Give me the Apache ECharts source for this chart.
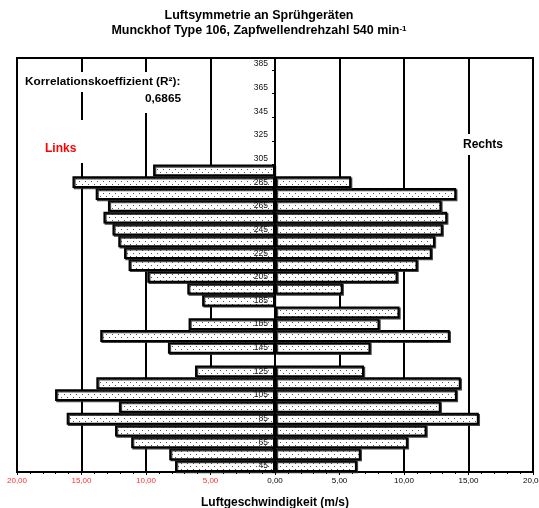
<!DOCTYPE html>
<html>
<head>
<meta charset="utf-8">
<script src="https://cdn.jsdelivr.net/npm/echarts@6/dist/echarts.min.js"></script>
<style>html,body{margin:0;padding:0;background:#fff}#c{width:539px;height:508px}</style>
</head>
<body>
<div id="c"></div>
<script>
// Categories (distance / height labels, bottom to top)
var categories = ['45','55','65','75','85','95','105','115','125','135','145','155','165','175','185','195','205','215','225','235','245','255','265','275','285','295','305','315','325','335','345','355','365','375','385'];
// Left side (Links) air speed, m/s
var leftValues = [7.75, 8.2, 11.15, 12.4, 16.15, 12.1, 17.05, 13.85, 6.2, null, 8.3, 13.55, 6.7, null, 5.65, 6.8, 9.9, 11.35, 11.7, 12.15, 12.6, 13.3, 12.95, 13.9, 15.7, 9.45, null, null, null, null, null, null, null, null, null];
// Right side (Rechts) air speed, m/s
var rightValues = [6.35, 6.65, 10.3, 11.75, 15.8, 12.85, 14.1, 14.4, 6.9, null, 7.4, 13.55, 8.1, 9.65, null, 5.25, 9.5, 11.05, 12.15, 12.4, 13.0, 13.35, 12.9, 14.05, 5.9, null, null, null, null, null, null, null, null, null, null];
var xTicks = [-20, -15, -10, -5, 0, 5, 10, 15, 20];

var FONT = "'Liberation Sans', Arial, sans-serif";
var GRID_LEFT = 17, GRID_RIGHT = 6, W = 539;

// dotted fill pattern
var pc = document.createElement('canvas');
pc.width = 6; pc.height = 6;
var pctx = pc.getContext('2d');
pctx.fillStyle = '#ffffff'; pctx.fillRect(0, 0, 6, 6);
pctx.fillStyle = '#555555';
pctx.fillRect(1, 1, 1, 1);
pctx.fillRect(4, 4, 1, 1);
var patternFill = { image: pc, repeat: 'repeat' };

var barStyle = {
  color: patternFill,
  borderColor: '#000',
  borderWidth: 2,
  shadowColor: 'rgba(40,40,40,0.85)',
  shadowOffsetX: 1.2,
  shadowOffsetY: 1.2,
  shadowBlur: 0
};

// offset that moves the category axis onto x = 0
var plotW = W - GRID_LEFT - GRID_RIGHT;
var zeroOffset = -plotW * (0 - xTicks[0]) / (xTicks[xTicks.length - 1] - xTicks[0]);

var chart = echarts.init(document.getElementById('c'), null, { renderer: 'canvas' });
chart.setOption({
  animation: false,
  backgroundColor: '#fff',
  textStyle: { fontFamily: FONT },
  grid: { left: GRID_LEFT, right: GRID_RIGHT, top: 58, bottom: 36, outerBoundsMode: 'none', containLabel: false,
          show: true, borderColor: '#000', borderWidth: 2, backgroundColor: '#fff' },
  xAxis: {
    type: 'value', min: xTicks[0], max: xTicks[xTicks.length - 1], interval: 5,
    name: 'Luftgeschwindigkeit (m/s)', nameLocation: 'middle', nameGap: 25,
    nameTextStyle: { fontFamily: FONT, fontSize: 12, fontWeight: 'bold', color: '#000' },
    axisLine: { show: true, lineStyle: { color: '#000', width: 2 } },
    axisTick: { show: true, length: 3, lineStyle: { color: '#000', width: 1 } },
    minorTick: { show: true, splitNumber: 5, length: 2, lineStyle: { color: '#000', width: 1 } },
    splitLine: { show: true, lineStyle: { color: '#000', width: 2 } },
    axisLabel: {
      margin: 5, fontFamily: FONT, fontSize: 8,
      formatter: function (v) { return Math.abs(v).toFixed(2).replace('.', ','); },
      color: function (v) { return Number(v) < 0 ? '#ff3030' : '#000'; }
    }
  },
  yAxis: {
    type: 'category', data: categories, z: 10, offset: zeroOffset,
    axisLine: { show: true, onZero: false, lineStyle: { color: '#000', width: 2 } },
    axisTick: { show: true, length: 3, lineStyle: { color: '#000', width: 1 } },
    axisLabel: { interval: 1, margin: 7, fontFamily: FONT, fontSize: 8.5, color: '#111' },
    splitLine: { show: false }
  },
  series: [
    {
      name: 'Links', type: 'bar', stack: 'lr', barCategoryGap: '0%', barWidth: '100%', z: 2,
      itemStyle: barStyle,
      data: leftValues.map(function (v) { return v == null ? '-' : -v; })
    },
    {
      name: 'Rechts', type: 'bar', stack: 'lr', barCategoryGap: '0%', barWidth: '100%', z: 2,
      itemStyle: barStyle,
      data: rightValues.map(function (v) { return v == null ? '-' : v; })
    }
  ],
  graphic: [
    { type: 'text', z: 100, x: 259, y: 15.5, style: { text: 'Luftsymmetrie an Sprühgeräten', font: 'bold 12.5px ' + FONT, fill: '#000', align: 'center', verticalAlign: 'middle' } },
    { type: 'text', z: 100, x: 259, y: 31, style: {
      text: 'Munckhof Type 106, Zapfwellendrehzahl 540 min{sup|-1}',
      font: 'bold 12.5px ' + FONT, fill: '#000', align: 'center', verticalAlign: 'middle',
      rich: { sup: { font: 'bold 8px ' + FONT, fill: '#000', verticalAlign: 'top', padding: [0, 0, 4, 0] } }
    } },
    { type: 'rect', z: 90, shape: { x: 18, y: 72, width: 166, height: 20 }, style: { fill: '#fff' } },
    { type: 'rect', z: 90, shape: { x: 138, y: 91, width: 46, height: 22 }, style: { fill: '#fff' } },
    { type: 'rect', z: 90, shape: { x: 18, y: 120, width: 122, height: 43 }, style: { fill: '#fff' } },
    { type: 'rect', z: 90, shape: { x: 440, y: 134, width: 86, height: 21 }, style: { fill: '#fff' } },
    { type: 'text', z: 100, x: 25, y: 81.5, style: { text: 'Korrelationskoeffizient (R²):', font: 'bold 11.8px ' + FONT, fill: '#000', align: 'left', verticalAlign: 'middle' } },
    { type: 'text', z: 100, x: 181, y: 99, style: { text: '0,6865', font: 'bold 11.8px ' + FONT, fill: '#000', align: 'right', verticalAlign: 'middle' } },
    { type: 'text', z: 100, x: 45, y: 149, style: { text: 'Links', font: 'bold 12px ' + FONT, fill: '#ff0000', align: 'left', verticalAlign: 'middle' } },
    { type: 'text', z: 100, x: 463, y: 145, style: { text: 'Rechts', font: 'bold 12px ' + FONT, fill: '#000', align: 'left', verticalAlign: 'middle' } }
  ]
});
</script>
</body>
</html>
